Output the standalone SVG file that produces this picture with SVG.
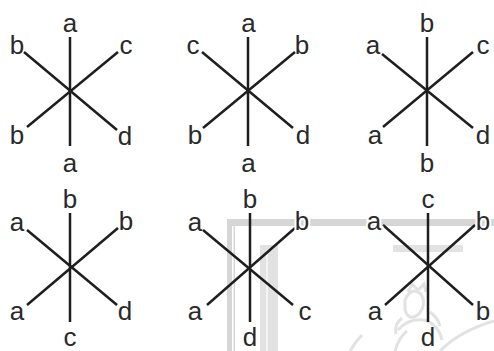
<svg xmlns="http://www.w3.org/2000/svg" width="494" height="351" viewBox="0 0 494 351">
<style>
.ln{stroke:#1e1e1e;stroke-width:2.5;stroke-linecap:butt;fill:none}
.t{font-family:"Liberation Sans",Arial,sans-serif;font-size:26px;fill:#2a2a2a;text-anchor:middle}
.h{stroke:#fff;stroke-width:4;paint-order:stroke}
.wm{fill:#d6d6d6}
.wl{fill:#e2e2e2}
.wf{fill:none;stroke:#e2e2e2;stroke-width:3}
</style>
<rect width="494" height="351" fill="#fff"/>
<g id="watermark">
<rect class="wm" x="227" y="219" width="267" height="7"/>
<rect class="wm" x="227" y="219" width="8" height="132"/>
<rect fill="#fff" x="232" y="226" width="1.5" height="125"/>
<rect class="wl" x="260" y="245" width="18" height="106"/>
<rect fill="#f4f4f4" x="266" y="250" width="2" height="101"/>
<rect class="wl" x="393" y="245" width="70" height="7"/>
<path class="wf" d="M405 300 q6 -14 16 -6 q6 10 -2 20 q-10 8 -14 -4 z"/>
<path class="wf" d="M408 292 l4 -8 l6 6 l6 -6 l2 8"/>
<path class="wf" d="M398 330 q10 -12 26 -10 q14 4 18 20 M395 351 q4 -14 12 -20"/>
<path class="wf" d="M440 351 q20 -20 54 -30 M350 351 q6 -10 12 -16"/>
<path class="wf" d="M402 318 q-8 6 -6 16 M430 312 q8 6 10 14"/>
</g>
<g id="p1">
<line class="ln" x1="70" y1="37" x2="70" y2="146"/>
<line class="ln" x1="24" y1="52" x2="117" y2="130"/>
<line class="ln" x1="118" y1="52" x2="27" y2="127"/>
<text class="t" x="70" y="32">a</text>
<text class="t" x="17" y="54">b</text>
<text class="t" x="126" y="54">c</text>
<text class="t" x="17" y="144">b</text>
<text class="t" x="125" y="145">d</text>
<text class="t" x="70" y="172">a</text>
</g>
<g id="p2">
<line class="ln" x1="248" y1="37" x2="248" y2="146"/>
<line class="ln" x1="202" y1="52" x2="293" y2="128"/>
<line class="ln" x1="295" y1="52" x2="203" y2="128"/>
<text class="t" x="248.5" y="32">a</text>
<text class="t" x="193" y="54">c</text>
<text class="t" x="302" y="54">b</text>
<text class="t" x="195" y="144">b</text>
<text class="t" x="303" y="144">d</text>
<text class="t" x="248.5" y="172">a</text>
</g>
<g id="p3">
<line class="ln" x1="427" y1="37" x2="427" y2="146"/>
<line class="ln" x1="382" y1="54" x2="473" y2="128"/>
<line class="ln" x1="473" y1="52" x2="383" y2="127"/>
<text class="t" x="427" y="32">b</text>
<text class="t" x="373" y="54">a</text>
<text class="t" x="483" y="54">c</text>
<text class="t" x="375" y="144">a</text>
<text class="t" x="483" y="144">d</text>
<text class="t" x="427" y="172">b</text>
</g>
<g id="p4">
<line class="ln" x1="70" y1="213" x2="70" y2="322"/>
<line class="ln" x1="27" y1="230" x2="117" y2="305"/>
<line class="ln" x1="118" y1="228" x2="27" y2="305"/>
<text class="t" x="70" y="208">b</text>
<text class="t" x="17" y="231">a</text>
<text class="t" x="126" y="230">b</text>
<text class="t" x="17" y="320">a</text>
<text class="t" x="125" y="320">d</text>
<text class="t" x="70" y="346">c</text>
</g>
<g id="p5">
<line class="ln" x1="250" y1="213" x2="250" y2="322"/>
<line class="ln" x1="203" y1="230" x2="293" y2="305"/>
<line class="ln" x1="295" y1="228" x2="207" y2="305"/>
<text class="t" x="250" y="208">b</text>
<text class="t" x="195" y="231">a</text>
<text class="t h" x="302" y="230">b</text>
<text class="t" x="195" y="320">a</text>
<text class="t" x="305" y="320">c</text>
<text class="t" x="250" y="346">d</text>
</g>
<g id="p6">
<line class="ln" x1="428" y1="213" x2="428" y2="322"/>
<line class="ln" x1="383" y1="225" x2="473" y2="305"/>
<line class="ln" x1="475" y1="225" x2="385" y2="305"/>
<text class="t" x="428" y="208">c</text>
<text class="t h" x="374" y="230">a</text>
<text class="t h" x="483" y="230">b</text>
<text class="t" x="375" y="320">a</text>
<text class="t" x="483" y="320">b</text>
<text class="t" x="428" y="346">d</text>
</g>
</svg>
